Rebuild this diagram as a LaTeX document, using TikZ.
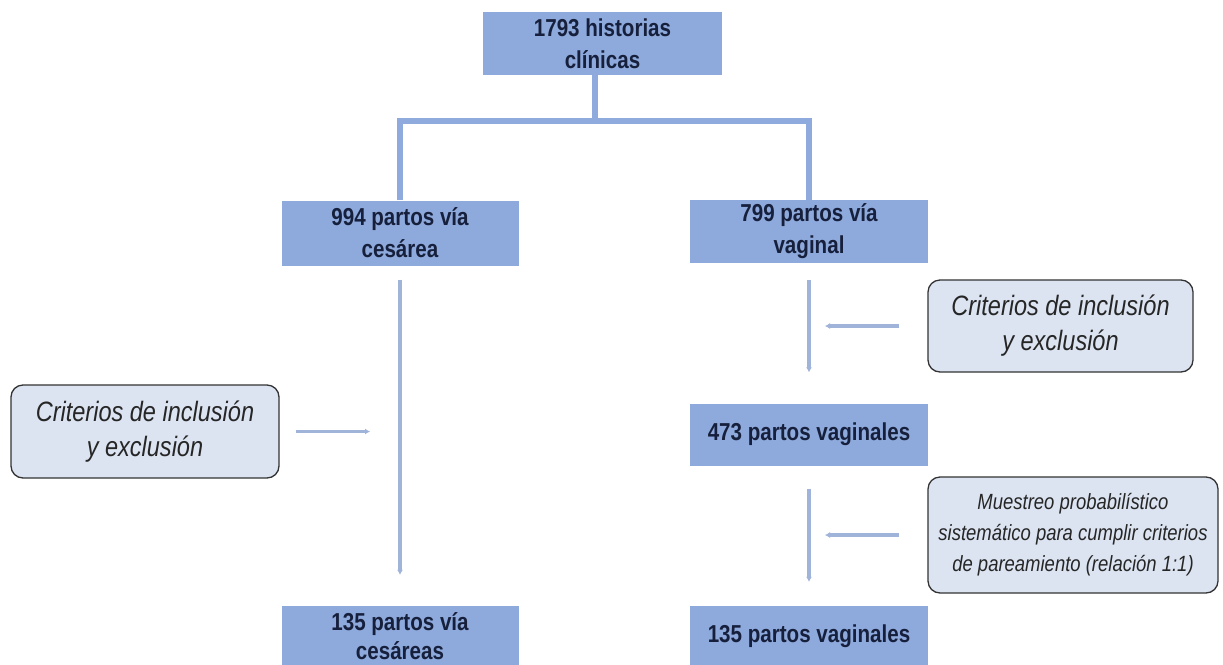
\documentclass[tikz,border=0pt]{standalone}
\usepackage{fontspec}
\setmainfont{Liberation Sans}[FakeStretch=0.84]
\usetikzlibrary{arrows.meta}
\definecolor{boxblue}{HTML}{8EA9DB}
\definecolor{lineblue}{HTML}{8FAADC}
\definecolor{thinblue}{HTML}{A0B3D8}
\definecolor{critfill}{HTML}{DCE4F2}
\definecolor{textnavy}{HTML}{16203C}

\begin{document}
\begin{tikzpicture}[x=1pt, y=-1pt,
  countbox/.style={shape=rectangle, fill=boxblue, text=textnavy, inner sep=0pt, align=center,
    font=\bfseries\fontsize{24.5}{32}\selectfont},
  critbox/.style={shape=rectangle, rounded corners=12pt, draw=black!80, line width=1.3pt, fill=critfill,
    text=black!85, inner sep=0pt, align=center, font=\itshape\fontsize{28}{35}\selectfont},
  bar/.style={draw=lineblue, line width=6pt},
  thinarrow/.style={draw=thinblue, line width=3.5pt, -{Latex[length=5pt,width=6pt]}}]
\useasboundingbox (0,0) rectangle (1223,664);
\clip (0,0) rectangle (1223,664);

\node[countbox, minimum width=239pt, minimum height=63pt] (hc) at (602.5,43.5) {1793 historias\\clínicas};
\node[countbox, minimum width=237pt, minimum height=65pt] (ces) at (400,233) {994 partos vía\\cesárea};
\node[countbox, minimum width=238pt, minimum height=63pt] (vag) at (809,231.5) {799 partos vía\\vaginal};
\node[countbox, minimum width=238pt, minimum height=62pt] (vag473) at (809,434.5) {473 partos vaginales};
\node[countbox, minimum width=237pt, minimum height=60pt, font=\bfseries\fontsize{24.5}{29.5}\selectfont] (ces135) at (400,636) {135 partos vía\\cesáreas};
\node[countbox, minimum width=238pt, minimum height=60pt] (vag135) at (809,636) {135 partos vaginales};

\node[critbox, minimum width=268pt, minimum height=93pt] (critL) at (145,431.5) {Criterios de inclusión\\y exclusión};
\node[critbox, minimum width=265pt, minimum height=92pt] (critR) at (1060.5,326) {Criterios de inclusión\\y exclusión};
\node[critbox, minimum width=290pt, minimum height=116pt, font=\itshape\fontsize{22}{31}\selectfont] (mues) at (1073,535)
  {Muestreo probabilístico\\sistemático para cumplir criterios\\de pareamiento (relación 1:1)};

% branching
\coordinate (split) at (595,121);
\draw[bar] (hc.south -| split) -- (split);
\draw[bar] (ces.north) |- (split) -| (vag.north);

% flow arrows
\draw[thinarrow, shorten <=14pt, shorten >=31pt] (ces.south) -- (ces135.north);
\draw[thinarrow, shorten <=17pt, shorten >=31pt] (vag.south) -- (vag473.north);
\draw[thinarrow, shorten <=23pt, shorten >=24pt] (vag473.south) -- (vag135.north);

% criteria arrows
\coordinate (inL) at (370,431.5);
\coordinate (inR) at (825,326);
\coordinate (inM) at (825,535);
\draw[thinarrow, shorten <=16pt] (critL.east) -- (inL);
\draw[thinarrow, shorten <=28pt] (critR.west) -- (inR);
\draw[thinarrow, shorten <=28pt] (mues.west) -- (inM);
\end{tikzpicture}
\end{document}
